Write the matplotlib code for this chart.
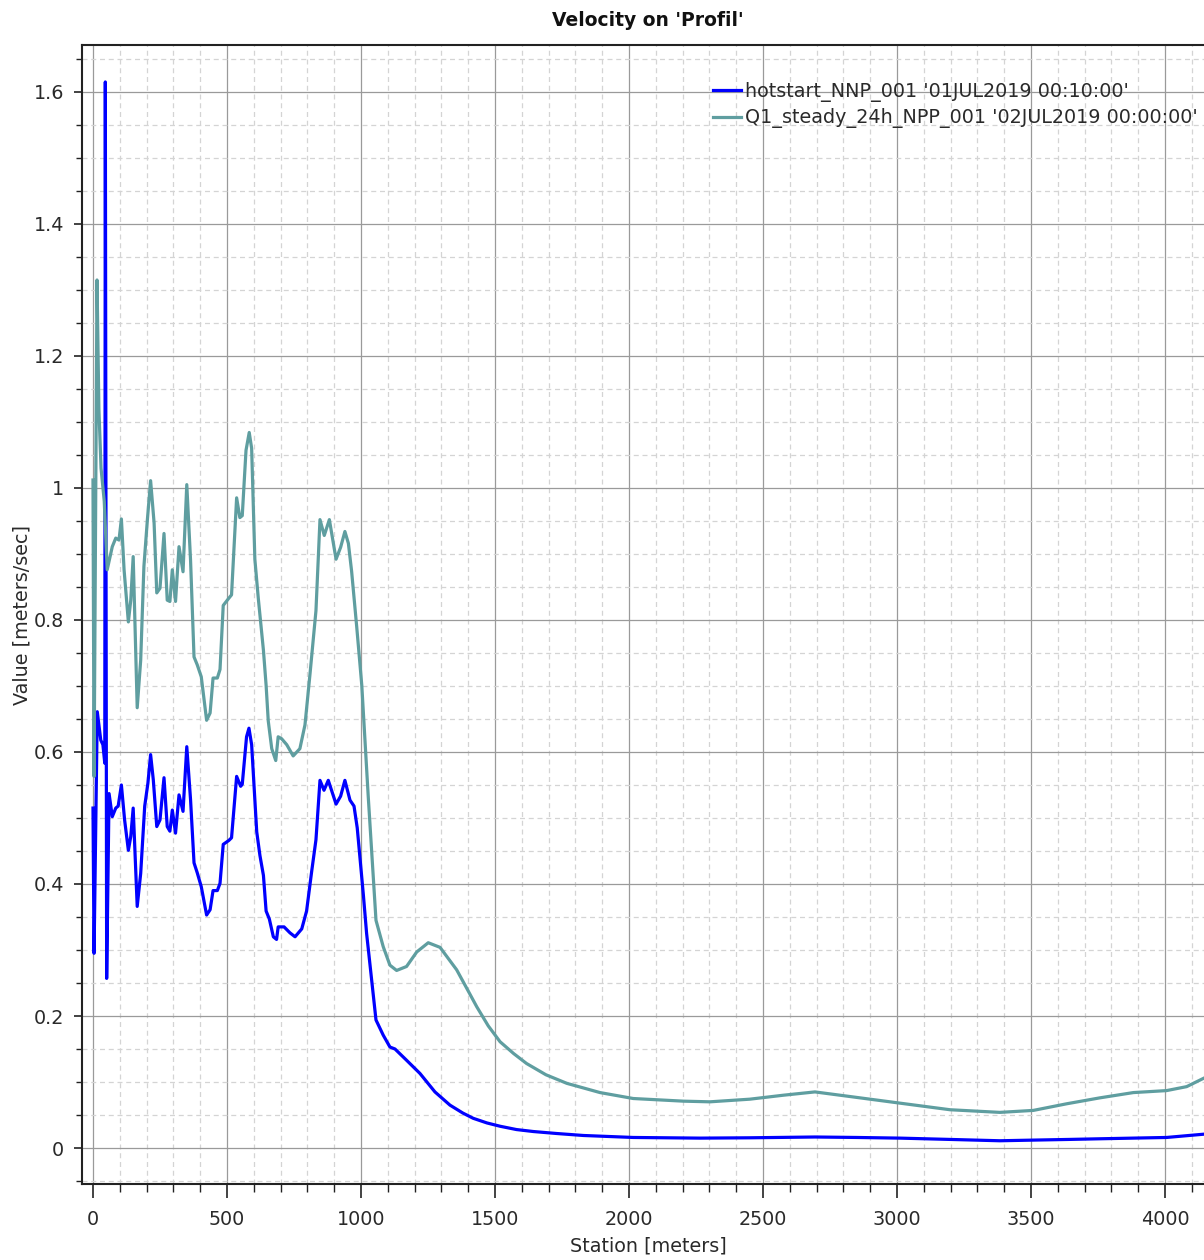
import numpy as np
import matplotlib
matplotlib.use('Agg')
import matplotlib.pyplot as plt
from matplotlib.ticker import MultipleLocator, FuncFormatter

# station [m] / velocity [m/s]
hot_station = [0, 4, 16, 29, 37, 44, 46, 51, 60, 72, 85, 94, 106, 118, 132, 141, 150, 165, 178,
               193, 205, 215, 225, 238, 250, 265, 277, 287, 296, 308, 321, 336, 350, 364, 377,
               389, 404, 424, 437, 448, 464, 474, 486, 507, 517, 536, 551, 557, 573, 582, 592,
               611, 623, 636, 646, 658, 673, 685, 691, 713, 735, 754, 779, 797, 816, 832, 847,
               862, 878, 907, 924, 940, 959, 974, 986, 1009, 1021, 1056, 1083, 1108, 1127, 1170,
               1220, 1276, 1332, 1380, 1419, 1470, 1519, 1580, 1643, 1730, 1830, 2016, 2265,
               2450, 2694, 2850, 3011, 3200, 3384, 3509, 3640, 3757, 3880, 4006, 4146]
hot_vel = [0.515, 0.295, 0.661, 0.618, 0.611, 0.583, 1.615, 0.257, 0.537, 0.502, 0.515, 0.518,
           0.550, 0.497, 0.451, 0.472, 0.515, 0.366, 0.416, 0.518, 0.553, 0.596, 0.558, 0.487,
           0.497, 0.561, 0.487, 0.480, 0.512, 0.477, 0.535, 0.510, 0.608, 0.528, 0.432, 0.417,
           0.396, 0.353, 0.361, 0.390, 0.390, 0.401, 0.460, 0.466, 0.470, 0.563, 0.548, 0.551,
           0.623, 0.636, 0.611, 0.479, 0.443, 0.413, 0.359, 0.347, 0.320, 0.316, 0.335, 0.335,
           0.326, 0.320, 0.332, 0.359, 0.419, 0.467, 0.557, 0.542, 0.557, 0.521, 0.533, 0.557,
           0.527, 0.518, 0.485, 0.383, 0.325, 0.194, 0.171, 0.153, 0.150, 0.133, 0.113, 0.085,
           0.065, 0.053, 0.045, 0.038, 0.033, 0.028, 0.025, 0.022, 0.019, 0.016, 0.015,
           0.0155, 0.0167, 0.016, 0.015, 0.013, 0.011, 0.012, 0.013, 0.014, 0.015, 0.016, 0.021]

q1_station = [0, 4, 15, 22, 30, 42, 53, 72, 85, 97, 106, 116, 132, 141, 150, 165, 178, 190,
              203, 215, 228, 238, 250, 265, 277, 287, 296, 308, 321, 336, 350, 364, 377, 389,
              404, 424, 437, 448, 464, 474, 486, 507, 517, 536, 548, 557, 571, 583, 592, 604,
              617, 636, 646, 654, 667, 682, 691, 704, 723, 747, 772, 791, 810, 832, 847, 863,
              882, 907, 924, 940, 953, 965, 984, 1003, 1027, 1056, 1083, 1108, 1133, 1170, 1208,
              1251, 1295, 1357, 1400, 1432, 1475, 1519, 1570, 1618, 1690, 1768, 1892, 2016,
              2203, 2302, 2451, 2576, 2694, 2825, 3011, 3198, 3384, 3509, 3633, 3757, 3882,
              4006, 4081, 4146]
q1_vel = [1.012, 0.563, 1.315, 1.12, 1.03, 0.98, 0.876, 0.911, 0.924, 0.921, 0.953, 0.876,
          0.797, 0.830, 0.896, 0.667, 0.739, 0.881, 0.952, 1.011, 0.947, 0.841, 0.848, 0.931,
          0.830, 0.828, 0.876, 0.828, 0.911, 0.873, 1.005, 0.891, 0.744, 0.732, 0.714, 0.648,
          0.659, 0.712, 0.712, 0.725, 0.822, 0.833, 0.838, 0.985, 0.955, 0.958, 1.057, 1.084,
          1.060, 0.892, 0.832, 0.754, 0.701, 0.647, 0.605, 0.587, 0.623, 0.620, 0.611, 0.594,
          0.605, 0.641, 0.719, 0.814, 0.952, 0.928, 0.952, 0.892, 0.910, 0.934, 0.916, 0.874,
          0.790, 0.701, 0.533, 0.345, 0.305, 0.277, 0.269, 0.275, 0.297, 0.311, 0.304, 0.270,
          0.238, 0.214, 0.185, 0.161, 0.143, 0.128, 0.111, 0.098, 0.084, 0.075, 0.071, 0.070,
          0.074, 0.080, 0.085, 0.078, 0.068, 0.058, 0.054, 0.057, 0.067, 0.076, 0.084, 0.087,
          0.093, 0.106]

labels = ["hotstart_NNP_001 '01JUL2019 00:10:00'",
          "Q1_steady_24h_NPP_001 '02JUL2019 00:00:00'"]

plt.rcParams['font.family'] = ['DejaVu Sans']
txt = '#2a2a2a'
fs = 13.8

W, H = 1204, 1260
fig = plt.figure(figsize=(W / 100, H / 100), dpi=100, facecolor='w')
# axes runs a bit past the right edge (the original is cropped there)
ax = fig.add_axes([82 / W, 1 - 1184 / H, (1214 - 82) / W, (1184 - 45) / H])

ax.plot(hot_station, hot_vel, color='#0000ff', lw=2.3, label=labels[0], zorder=3)
ax.plot(q1_station, q1_vel, color='#5f9ea0', lw=2.3, label=labels[1], zorder=3)

ax.set_xlim(-41, 4183)
ax.set_ylim(-0.0545, 1.671)
ax.xaxis.set_major_locator(MultipleLocator(500))
ax.xaxis.set_minor_locator(MultipleLocator(100))
ax.yaxis.set_major_locator(MultipleLocator(0.2))
ax.yaxis.set_minor_locator(MultipleLocator(0.05))
ax.yaxis.set_major_formatter(FuncFormatter(lambda v, p: '%g' % round(v, 2)))

ax.grid(which='major', color='#9a9a9a', lw=0.9, ls='-')
ax.grid(which='minor', color='#d4d4d4', lw=0.9, ls=(0, (4, 3)))
ax.set_axisbelow(True)

for s in ['left', 'bottom', 'top']:
    ax.spines[s].set_color('#222222')
    ax.spines[s].set_linewidth(1.5)
ax.spines['right'].set_visible(False)

ax.tick_params(which='major', length=10, width=1.2, color='#222222', labelsize=fs,
               labelcolor=txt, pad=9)
ax.tick_params(which='minor', length=6, width=1.0, color='#222222')
ax.tick_params(axis='y', which='major', length=6, pad=7)
ax.tick_params(axis='y', which='minor', length=4)

ax.set_xlabel('Station [meters]', fontsize=fs, color=txt, labelpad=5)
fig.text(22 / W, 1 - 615 / H, 'Value [meters/sec]', rotation=90, ha='center', va='center',
         fontsize=fs, color=txt)
fig.text(648 / W, 1 - 21 / H, "Velocity on 'Profil'", ha='center', va='center',
         fontsize=13.5, fontweight='bold', color='#111111')

fig.legend(loc='upper left', bbox_to_anchor=(705 / W, 1 - 74 / H), frameon=False,
           fontsize=fs, handlelength=1.5, handletextpad=0.2, labelspacing=0.35,
           borderaxespad=0, labelcolor=txt)

fig.savefig('out.png', dpi=100, facecolor='w')
